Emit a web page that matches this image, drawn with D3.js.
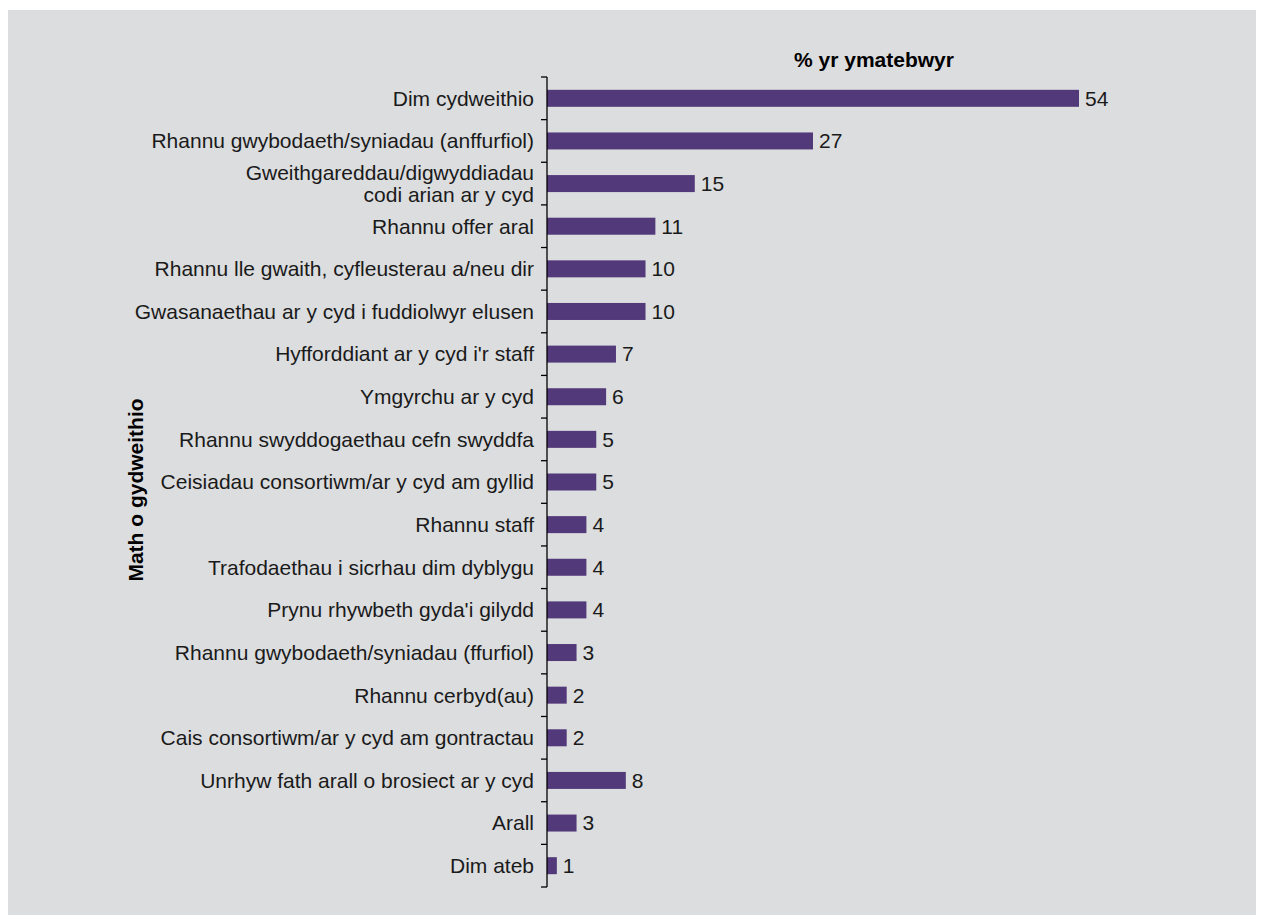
<!DOCTYPE html>
<html><head><meta charset="utf-8">
<script src="https://cdn.jsdelivr.net/npm/d3@7"></script>
<style>
html,body{margin:0;padding:0;background:#fff;}
svg{display:block;}
</style></head>
<body>
<script>
const categories = [
  ["Dim cydweithio"],
  ["Rhannu gwybodaeth/syniadau (anffurfiol)"],
  ["Gweithgareddau/digwyddiadau","codi arian ar y cyd"],
  ["Rhannu offer aral"],
  ["Rhannu lle gwaith, cyfleusterau a/neu dir"],
  ["Gwasanaethau ar y cyd i fuddiolwyr elusen"],
  ["Hyfforddiant ar y cyd i'r staff"],
  ["Ymgyrchu ar y cyd"],
  ["Rhannu swyddogaethau cefn swyddfa"],
  ["Ceisiadau consortiwm/ar y cyd am gyllid"],
  ["Rhannu staff"],
  ["Trafodaethau i sicrhau dim dyblygu"],
  ["Prynu rhywbeth gyda'i gilydd"],
  ["Rhannu gwybodaeth/syniadau (ffurfiol)"],
  ["Rhannu cerbyd(au)"],
  ["Cais consortiwm/ar y cyd am gontractau"],
  ["Unrhyw fath arall o brosiect ar y cyd"],
  ["Arall"],
  ["Dim ateb"]
];
const values = [54,27,15,11,10,10,7,6,5,5,4,4,4,3,2,2,8,3,1];
const xTitle = "% yr ymatebwyr";
const yTitle = "Math o gydweithio";

(function(){
const W = 1261, H = 915;
const svg = d3.select("body").append("svg").attr("width", W).attr("height", H);
svg.append("rect").attr("x",8).attr("y",10).attr("width",1248).attr("height",H-10).attr("fill","#dcdddf");

const font = "'Liberation Sans',Arial,sans-serif";
const fs = 21;
const x0 = 547, yTop = 77, yBot = 887;
const ids = categories.map((d,i)=>i);
const yb = d3.scaleBand().domain(ids).range([yTop,yBot]);
const x = d3.scaleLinear().domain([0,54]).range([x0, 1079]);

const g = svg.append("g");
g.selectAll("rect.bar").data(values).join("rect")
  .attr("x", x(0)).attr("y",(d,i)=>yb(i)+yb.bandwidth()/2-8.5)
  .attr("width", d=>x(d)-x(0)).attr("height",17).attr("fill","#523a7a");
g.selectAll("text.val").data(values).join("text")
  .attr("x", d=>x(d)+6).attr("y",(d,i)=>yb(i)+yb.bandwidth()/2)
  .attr("dy","0.35em").attr("font-family",font).attr("font-size",fs).attr("fill","#1a1a1a")
  .text(d=>d);
g.append("line").attr("x1",x0).attr("x2",x0).attr("y1",yTop).attr("y2",yBot).attr("stroke","#000").attr("stroke-width",1.3);
const tickPos = ids.map(i=>yb(i)).concat([yBot]);
g.selectAll("line.tick").data(tickPos).join("line")
  .attr("x1",x0-6).attr("x2",x0).attr("y1",d=>d).attr("y2",d=>d)
  .attr("stroke","#000").attr("stroke-width",1.3);
const lab = g.selectAll("text.cat").data(categories).join("text")
  .attr("text-anchor","end").attr("font-family",font).attr("font-size",fs).attr("fill","#1a1a1a");
lab.each(function(lines,i){
  const t = d3.select(this);
  const cy = yb(i)+yb.bandwidth()/2;
  lines.forEach((ln,k)=>{
    t.append("tspan").attr("x",x0-13).attr("y", cy + (k-(lines.length-1)/2)*22).attr("dy","0.35em").text(ln);
  });
});
svg.append("text").attr("x",874).attr("y",60).attr("dy","0.35em").attr("text-anchor","middle")
  .attr("font-family",font).attr("font-weight","bold").attr("font-size",fs).text(xTitle);
svg.append("text").attr("transform","translate(136,490) rotate(-90)").attr("dy","0.35em").attr("text-anchor","middle")
  .attr("font-family",font).attr("font-weight","bold").attr("font-size",fs).text(yTitle);
})();
</script>
</body></html>
